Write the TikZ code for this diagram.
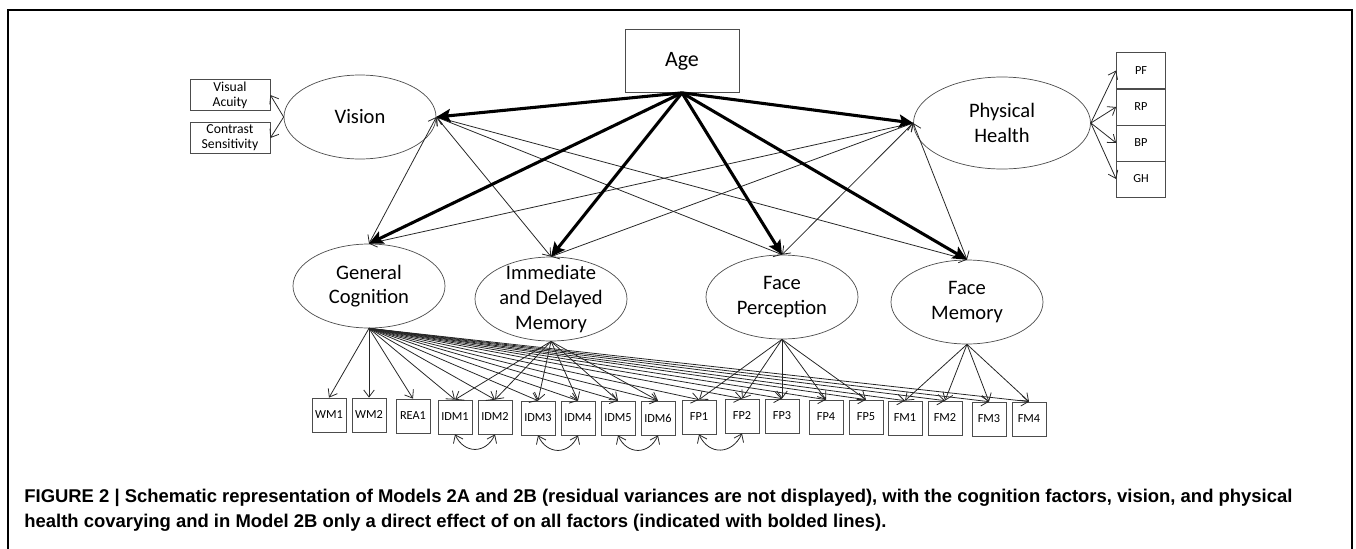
\documentclass[tikz,border=0pt]{standalone}
\usepackage{fontspec}
\setmainfont{Carlito}
\newfontfamily\capfont{Liberation Sans}
\usetikzlibrary{positioning,arrows.meta,shapes.geometric}

\newcommand{\pxu}{0.02cm}

\begin{document}
\begin{tikzpicture}[x=0.02cm, y=-0.02cm,
  factor/.style={draw=black!70, ellipse, inner sep=0pt, minimum width=152*\pxu, minimum height=84*\pxu},
  ftext/.style={align=center, inner sep=0pt, font=\fontsize{11.7}{14}\selectfont},
  item/.style={draw=black!70, inner sep=0pt, minimum width=34*\pxu, minimum height=34*\pxu, font=\fontsize{7}{8}\selectfont},
  load/.style={-{Straight Barb[length=4pt, width=6pt]}, black!85, line width=0.45pt},
  cov/.style={{Straight Barb[length=4pt, width=6pt]}-{Straight Barb[length=4pt, width=6pt]}, black!85, line width=0.45pt},
  direct/.style={-{Stealth[length=8pt, width=7.5pt, inset=1.5pt]}, line width=1.75pt},
]
\useasboundingbox (0,0) rectangle (1356,548);
\draw[line width=1.2pt] (8,552) -- (8,10) -- (1352,10) -- (1352,552);

% age and latent factors
\node[draw=black!70, inner sep=0pt, minimum width=114*\pxu, minimum height=63*\pxu, font=\fontsize{12.5}{15}\selectfont] (age) at (682,61) {Age};
\node[factor, label={[ftext]center:Vision}] (vision) at (360,117) {};
\node[factor, minimum width=177*\pxu, minimum height=92*\pxu, label={[ftext]center:Physical\\Health}] (health) at (1002,123) {};
\node[factor, label={[ftext]center:General\\Cognition}] (gencog) at (369,286) {};
\node[factor, label={[ftext]center:Immediate\\and Delayed\\Memory}] (idmem) at (551,299) {};
\node[factor, label={[ftext]center:Face\\Perception}] (faceper) at (782,297) {};
\node[factor, label={[ftext]center:Face\\Memory}] (facemem) at (967,302) {};

% vision and health indicators
\node[item, minimum width=80*\pxu, minimum height=31*\pxu, align=center, font=\fontsize{7.8}{8.6}\selectfont] (acuity) at (230,95) {Visual\\Acuity};
\node[item, minimum width=80*\pxu, minimum height=31*\pxu, align=center, font=\fontsize{7.8}{8.6}\selectfont] (contrast) at (230,138) {Contrast\\Sensitivity};
\foreach \n/\y in {PF/70.5,RP/107,BP/143,GH/179}
  \node[item, minimum width=49*\pxu, minimum height=36*\pxu] (\n) at (1141,\y) {\n};
\draw[load] (vision.west) -- (acuity.east);
\draw[load] (vision.west) -- (contrast.east);
\foreach \n in {PF,RP,BP,GH}
  \draw[load] (health.east) -- (\n.west);

% cognition indicators
\foreach \n/\x/\y in {WM1/329/415,WM2/369/415,REA1/413/416,IDM1/455/417,IDM2/495/417,
    IDM3/538/418,IDM4/578/418,IDM5/618/418,IDM6/658/418,FP1/699/417,FP2/742/416,
    FP3/782/416,FP4/826/417,FP5/866/417,FM1/905/418,FM2/945/418,FM3/989/419,FM4/1029/419}
  \node[item] (\n) at (\x,\y) {\n};
\foreach \n in {WM1,WM2,REA1,IDM1,IDM2,IDM3,IDM4,IDM5,IDM6,FP1,FP2,FP3,FP4,FP5,FM1,FM2,FM3,FM4}
  \draw[load] (gencog.south) -- (\n.north);
\foreach \n in {IDM1,IDM2,IDM3,IDM4,IDM5,IDM6}
  \draw[load] (idmem.south) -- (\n.north);
\foreach \n in {FP1,FP2,FP3,FP4,FP5}
  \draw[load] (faceper.south) -- (\n.north);
\foreach \n in {FM1,FM2,FM3,FM4}
  \draw[load] (facemem.south) -- (\n.north);
\foreach \a/\b in {IDM1/IDM2,IDM3/IDM4,IDM5/IDM6,FP1/FP2}
  \draw[cov] (\a.south) to[out=-65, in=-115, looseness=1.4] (\b.south);

% covariances
\foreach \t in {gencog,idmem,faceper,facemem} {
  \draw[cov] (vision.east) -- (\t.north);
  \draw[cov] (health.west) -- (\t.north);
}
% direct effects of age
\foreach \t/\a in {vision/east,health/west,gencog/north,idmem/north,faceper/north,facemem/north}
  \draw[direct] (age.south) -- (\t.\a);

\node[anchor=base west, align=left, inner sep=0pt, font=\capfont\bfseries\fontsize{10.5}{14.2}\selectfont] (caption) at (24,527)
  {FIGURE 2 \textbar{} Schematic representation of Models 2A and 2B (residual variances are not displayed), with the cognition factors, vision, and physical\\
   health covarying and in Model 2B only a direct effect of on all factors (indicated with bolded lines).};
\end{tikzpicture}
\end{document}
